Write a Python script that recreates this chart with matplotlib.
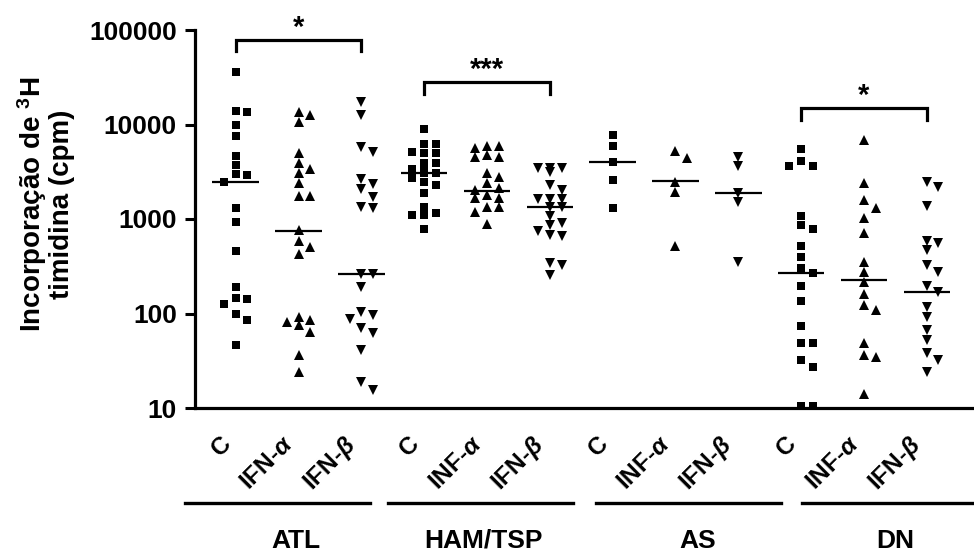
import numpy as np
import matplotlib
matplotlib.use("Agg")
import matplotlib.pyplot as plt
from matplotlib.lines import Line2D

plt.rcParams['font.family'] = ['Liberation Sans', 'DejaVu Sans']
plt.rcParams['font.weight'] = 'bold'
plt.rcParams['mathtext.fontset'] = 'custom'
plt.rcParams['mathtext.rm'] = 'Liberation Sans:bold'
plt.rcParams['mathtext.it'] = 'Liberation Sans:italic:bold'
plt.rcParams['mathtext.bf'] = 'Liberation Sans:bold'

# ---------------- data (cpm) ----------------
groups = ["ATL", "HAM/TSP", "AS", "DN"]
tick_labels = ["C", "IFN-$\\alpha$", "IFN-$\\beta$",
               "C", "INF-$\\alpha$", "IFN-$\\beta$",
               "C", "INF-$\\alpha$", "IFN-$\\beta$",
               "C", "INF-$\\alpha$", "IFN-$\\beta$"]

ATL_C = [36000, 14000, 13400, 9900, 7570, 4650, 3740, 3000, 2930, 2450,
         1300, 940, 453, 190, 146, 142, 127, 99, 86, 46]
ATL_A = [13400, 12600, 10700, 5050, 3950, 3390, 3100, 2430, 1760, 1760,
         756, 578, 500, 428, 91, 82, 86, 76, 63, 36, 24]
ATL_B = [17500, 12600, 5740, 5130, 2640, 2350, 2080, 1730, 1356, 1300,
         263, 263, 193, 103, 97, 88, 70, 62, 41, 18.7, 15.6]
HAM_C = [8900, 6180, 6180, 5160, 4970, 4970, 3890, 3890, 3360, 3360, 3060,
         3060, 2710, 2490, 2300, 1900, 1335, 1150, 1090, 1100, 782]
HAM_A = [5930, 5930, 5610, 4760, 4510, 4510, 3100, 2810, 2390, 2120, 2030,
         1800, 1660, 1660, 1333, 1333, 1200, 889]
HAM_B = [3440, 3440, 3440, 3170, 2300, 2030, 1620, 1620, 1620, 1355, 1355,
         1080, 918, 867, 755, 680, 664, 341, 327, 257]
AS_C = [7770, 5990, 4050, 2590, 1300]
AS_A = [5250, 4400, 2490, 1950, 520]
AS_B = [4510, 3650, 1875, 1505, 355]
DN_C = [5470, 4120, 3650, 3650, 1080, 867, 782, 524, 401, 302, 268, 196,
        134, 73, 49, 49, 32, 27, 10.6, 10.6]
DN_A = [6870, 2390, 1590, 1300, 1020, 708, 347, 278, 218, 161, 122, 108,
        49, 36, 35, 14.2]
DN_B = [2490, 2170, 1376, 578, 564, 465, 327, 272, 196, 167, 117, 92, 67,
        52, 38, 32, 24]

series = [ATL_C, ATL_A, ATL_B, HAM_C, HAM_A, HAM_B,
          AS_C, AS_A, AS_B, DN_C, DN_A, DN_B]
medians = [2450, 750, 263, 3060, 2000, 1355, 4000, 2520, 1890, 268, 225, 167]
markers = ["s", "^", "v"] * 4

# significance brackets: (first position, last position, label)
brackets = [(0, 2, "*"), (3, 5, "***"), (9, 11, "*")]
bracket_top = [79000, 28400, 15000]
bracket_leg = [60000, 21000, 11200]

# ---------------- figure ----------------
W, H = 974, 555
fig = plt.figure(figsize=(W / 100, H / 100), dpi=100)
ax = fig.add_axes([195 / W, 1 - 408 / H, 777 / W, 378 / H])
ax.set_yscale("log")
ax.set_ylim(10, 100000)
ax.set_xlim(-0.648, 11.72)

positions = np.arange(len(series))

fig.canvas.draw()
step_px = 11.7
thr_px = 8.5


def swarm(vals, pos):
    vals = np.asarray(vals, dtype=float)
    pts = ax.transData.transform(np.column_stack([np.full(len(vals), pos), vals]))
    unit = ax.transData.transform([(1, 10)])[0, 0] - ax.transData.transform([(0, 10)])[0, 0]
    order = np.argsort(-vals, kind="stable")
    placed = []
    xs = np.zeros(len(vals))
    for i in order:
        y = pts[i, 1]
        best, best_d = 0.0, -1.0
        for k in [0, 1, -1]:
            ox = k * step_px
            same = [abs(y - py) for px, py in placed if abs(ox - px) < step_px * 0.5]
            d = min(same) if same else 1e9
            if d >= thr_px:
                best = ox
                break
            if d > best_d:
                best, best_d = ox, d
        placed.append((best, y))
        xs[i] = best
    return pos + xs / unit, vals


for pos, vals, m, med in zip(positions, series, markers, medians):
    xs, ys = swarm(vals, pos)
    ms = 5.6 if m == "s" else 6.8
    ax.plot(xs, ys, linestyle="none", marker=m, color="black", ms=ms,
            markeredgewidth=0, clip_on=False, zorder=3)
    ax.plot([pos - 0.37, pos + 0.37], [med, med], color="black", lw=1.6,
            solid_capstyle="butt", zorder=4)

# brackets
for (a, b, lab), top, leg in zip(brackets, bracket_top, bracket_leg):
    ax.plot([a, a, b, b], [leg, top, top, leg], color="black", lw=2.3,
            clip_on=False, solid_joinstyle="miter", zorder=5)
    ax.annotate(lab, xy=((a + b) / 2, top), xytext=(0, 3),
                textcoords="offset points", ha="center", va="baseline",
                fontsize=21, fontweight="bold", annotation_clip=False)

# axes styling
for s in ["top", "right"]:
    ax.spines[s].set_visible(False)
for s in ["left", "bottom"]:
    ax.spines[s].set_linewidth(2.3)
ax.set_yticks([10, 100, 1000, 10000, 100000])
ax.set_yticklabels(["10", "100", "1000", "10000", "100000"], fontsize=19,
                   fontweight="bold")
ax.yaxis.set_minor_locator(matplotlib.ticker.NullLocator())
ax.tick_params(axis="y", length=7, width=2.2, pad=6)

ax.set_xticks(positions)
ax.set_xticklabels(tick_labels, rotation=45, ha="right", fontsize=17.5,
                   fontweight="bold")
ax.tick_params(axis="x", length=0, pad=17)

ax.set_ylabel("Incorporação de $^{3}$H\ntimidina (cpm)", fontsize=20,
              fontweight="bold", linespacing=1.0)
ax.yaxis.set_label_coords(-0.154, 0.54)

# group lines and names
line_start = [185, 388, 596, 802]
line_len = 185
name_x = [296, 484, 698, 895]
for g, x0, nx in zip(groups, line_start, name_x):
    x1 = min(x0 + line_len, W)
    fig.add_artist(Line2D([x0 / W, x1 / W], [1 - 502.7 / H] * 2,
                          transform=fig.transFigure, color="black", lw=2.4))
    fig.text(nx / W, 1 - 553 / H, g, ha="center", va="bottom", fontsize=19,
             fontweight="bold")

fig.savefig("out.png", dpi=100)
